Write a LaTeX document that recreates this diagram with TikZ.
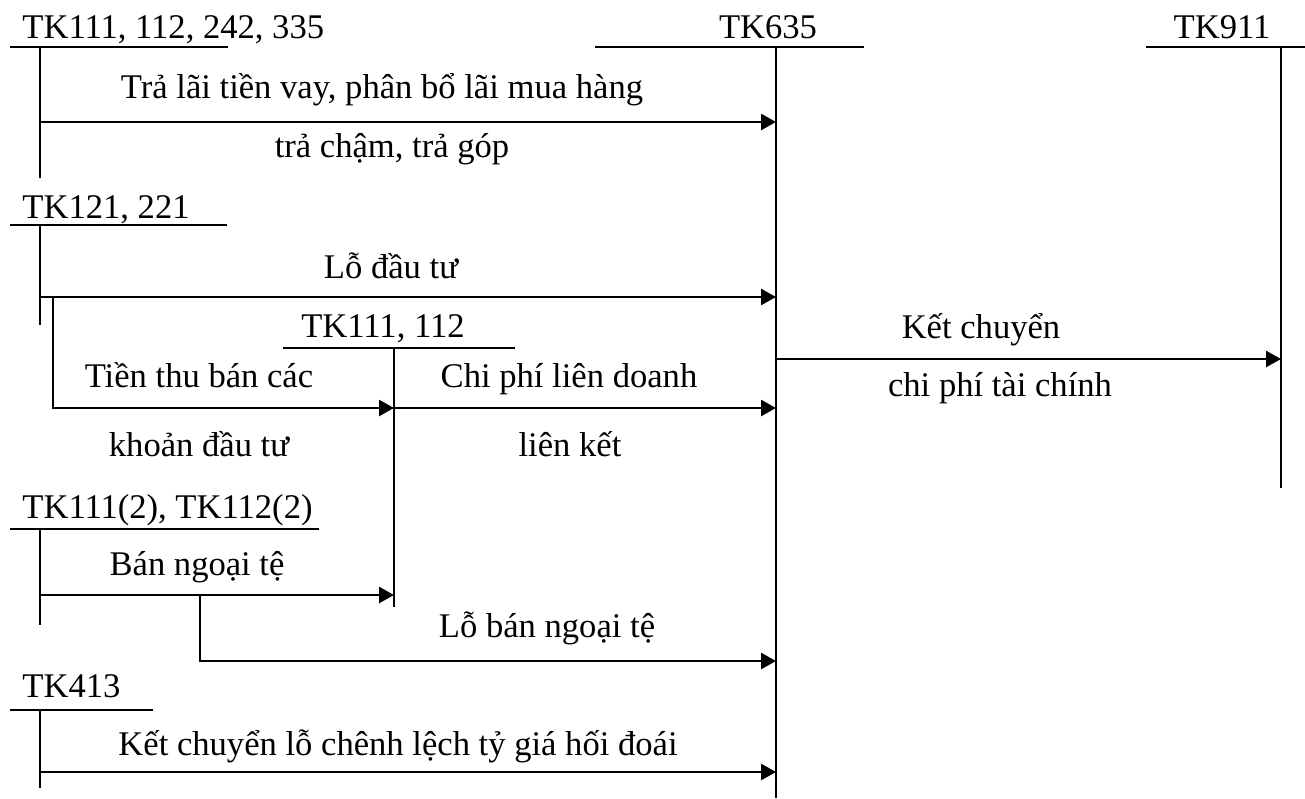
\documentclass[tikz,border=0pt]{standalone}
\usepackage{fontspec}
\setmainfont{Liberation Serif}
\usetikzlibrary{arrows.meta}
\begin{document}
\begin{tikzpicture}[x=0.5pt,y=-0.5pt,
  lbl/.style={font=\fontsize{17.3}{20}\selectfont, inner sep=0pt, anchor=base},
  head/.style={lbl, anchor=base west},
  tline/.style={line width=1.15pt},
  stem/.style={line width=1pt},
  flow/.style={line width=1.35pt, -{Triangle[length=7.5pt,width=8pt]}},
]
\useasboundingbox (0,0) rectangle (1305,798);

% ---- T-accounts: header rule and stem ----
% TK111, 112, 242, 335
\coordinate (aL) at (10,47);   \coordinate (aR) at (228,47);
\coordinate (aT) at (40,47);   \coordinate (aB) at (40,178);
% TK635
\coordinate (bL) at (595,47);  \coordinate (bR) at (864,47);
\coordinate (bT) at (776,47);  \coordinate (bB) at (776,798);
% TK911
\coordinate (cL) at (1146,47); \coordinate (cR) at (1305,47);
\coordinate (cT) at (1281,47); \coordinate (cB) at (1281,488);
% TK121, 221
\coordinate (dL) at (10,225);  \coordinate (dR) at (227,225);
\coordinate (dT) at (40,225);  \coordinate (dB) at (40,325);
% TK111, 112
\coordinate (eL) at (283,348); \coordinate (eR) at (515,348);
\coordinate (eT) at (394,348); \coordinate (eB) at (394,607);
% TK111(2), TK112(2)
\coordinate (fL) at (10,529);  \coordinate (fR) at (319,529);
\coordinate (fT) at (40,529);  \coordinate (fB) at (40,625);
% TK413
\coordinate (gL) at (10,710);  \coordinate (gR) at (153,710);
\coordinate (gT) at (40,710);  \coordinate (gB) at (40,788);

\foreach \k in {a,b,c,d,e,f,g}{
  \draw[tline] (\k L) -- (\k R);
  \draw[stem] (\k T) -- (\k B);
}

% account titles
\node[head] (tA) at (22,38) {TK111, 112, 242, 335};
\node[lbl]  (tB) at (768,38) {TK635};
\node[lbl]  (tC) at (1222,38) {TK911};
\node[head] (tD) at (22,218) {TK121, 221};
\node[lbl]  (tE) at (383,337) {TK111, 112};
\node[head] (tF) at (22,518) {TK111(2), TK112(2)};
\node[head] (tG) at (22,697) {TK413};

% ---- flows ----
\coordinate (p1s) at (40,122);  \coordinate (p1e) at (776,122);
\coordinate (p2s) at (40,297);  \coordinate (p2e) at (776,297);
\coordinate (p3s) at (53,297);  \coordinate (p3k) at (53,408);  \coordinate (p3e) at (394,408);
\coordinate (p4e) at (776,408);
\coordinate (p5s) at (776,359); \coordinate (p5e) at (1281,359);
\coordinate (p6s) at (40,595);  \coordinate (p6e) at (394,595);
\coordinate (p7s) at (200,595); \coordinate (p7k) at (200,661); \coordinate (p7e) at (776,661);
\coordinate (p8s) at (40,772);  \coordinate (p8e) at (776,772);

\draw[flow] (p1s) -- (p1e);
\draw[flow] (p2s) -- (p2e);
\draw[flow] (p3s) -- (p3k) -- (p3e);
\draw[flow] (p3e) -- (p4e);
\draw[flow] (p5s) -- (p5e);
\draw[flow] (p6s) -- (p6e);
\draw[flow] (p7s) -- (p7k) -- (p7e);
\draw[flow] (p8s) -- (p8e);

% flow labels
\node[lbl] (l1a) at (382,98)  {Trả lãi tiền vay, phân bổ lãi mua hàng};
\node[lbl] (l1b) at (392,157) {trả chậm, trả góp};
\node[lbl] (l2)  at (391,278) {Lỗ đầu tư};
\node[lbl] (l3a) at (199,387) {Tiền thu bán các};
\node[lbl] (l3b) at (199,456) {khoản đầu tư};
\node[lbl] (l4a) at (569,387) {Chi phí liên doanh};
\node[lbl] (l4b) at (570,456) {liên kết};
\node[lbl] (l5a) at (981,338) {Kết chuyển};
\node[lbl] (l5b) at (1000,396) {chi phí tài chính};
\node[lbl] (l6)  at (197,575) {Bán ngoại tệ};
\node[lbl] (l7)  at (547,637) {Lỗ bán ngoại tệ};
\node[lbl] (l8)  at (398,755) {Kết chuyển lỗ chênh lệch tỷ giá hối đoái};
\end{tikzpicture}
\end{document}
